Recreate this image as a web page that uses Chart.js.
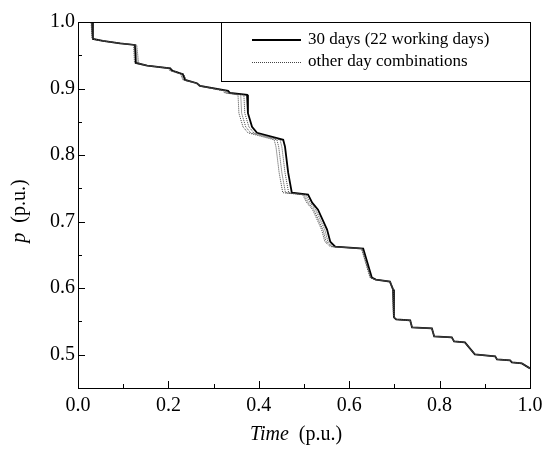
<!DOCTYPE html>
<html>
<head>
<meta charset="utf-8">
<script src="https://cdn.jsdelivr.net/npm/chart.js@4.4.1/dist/chart.umd.min.js"></script>
<style>
  html, body { margin: 0; padding: 0; background: #fff; }
  #wrap { width: 544px; height: 451px; }
</style>
</head>
<body>
<div id="wrap"><canvas id="c" width="544" height="451"></canvas></div>
<script>
// values
const pValues = [1.000, 1.000, 0.9745, 0.9715, 0.968, 0.9655, 0.9385, 0.9345, 0.9305, 0.927,
  0.9215, 0.913, 0.908, 0.904, 0.8965, 0.8935, 0.8905, 0.863, 0.8425, 0.8335,
  0.823, 0.8125, 0.7735, 0.7435, 0.7405, 0.7285, 0.718, 0.688, 0.670, 0.6625,
  0.6595, 0.616, 0.613, 0.610, 0.598, 0.556, 0.553, 0.5515, 0.541, 0.5395,
  0.5275, 0.526, 0.520, 0.5185, 0.5005, 0.4975, 0.493, 0.4915, 0.4885, 0.487, 0.4795];

// 30 days (22 working days)
const time30 = [0.000, 0.031, 0.033, 0.055, 0.093, 0.126, 0.128, 0.153, 0.204, 0.208,
  0.232, 0.237, 0.263, 0.270, 0.332, 0.336, 0.374, 0.376, 0.385, 0.396,
  0.454, 0.458, 0.465, 0.473, 0.509, 0.518, 0.531, 0.551, 0.558, 0.569,
  0.631, 0.650, 0.659, 0.690, 0.697, 0.699, 0.704, 0.735, 0.739, 0.783,
  0.788, 0.827, 0.832, 0.856, 0.878, 0.923, 0.927, 0.956, 0.960, 0.982, 1.000];

// other day combinations
const timeOtherA = [0.000, 0.030, 0.032, 0.055, 0.093, 0.128, 0.131, 0.153, 0.206, 0.210,
  0.234, 0.239, 0.263, 0.272, 0.330, 0.331, 0.367, 0.369, 0.378, 0.389,
  0.447, 0.451, 0.458, 0.466, 0.504, 0.513, 0.526, 0.546, 0.553, 0.565,
  0.629, 0.648, 0.658, 0.690, 0.697, 0.699, 0.704, 0.735, 0.739, 0.783,
  0.788, 0.827, 0.832, 0.856, 0.878, 0.923, 0.927, 0.956, 0.960, 0.982, 1.000];
const timeOtherB = [0.000, 0.029, 0.031, 0.055, 0.093, 0.123, 0.125, 0.153, 0.199, 0.203,
  0.227, 0.232, 0.263, 0.267, 0.326, 0.327, 0.360, 0.362, 0.371, 0.382,
  0.440, 0.444, 0.451, 0.459, 0.500, 0.509, 0.522, 0.542, 0.549, 0.562,
  0.628, 0.647, 0.657, 0.689, 0.696, 0.698, 0.704, 0.735, 0.739, 0.783,
  0.788, 0.827, 0.832, 0.856, 0.878, 0.923, 0.927, 0.956, 0.960, 0.982, 1.000];
const timeOtherC = [0.000, 0.032, 0.034, 0.055, 0.093, 0.130, 0.134, 0.153, 0.201, 0.205,
  0.229, 0.234, 0.263, 0.268, 0.322, 0.324, 0.354, 0.356, 0.365, 0.376,
  0.434, 0.438, 0.445, 0.453, 0.497, 0.506, 0.519, 0.539, 0.546, 0.558,
  0.627, 0.646, 0.656, 0.691, 0.698, 0.700, 0.705, 0.735, 0.739, 0.783,
  0.788, 0.827, 0.832, 0.856, 0.878, 0.923, 0.927, 0.956, 0.960, 0.982, 1.000];

const xTicks = [0.0, 0.2, 0.4, 0.6, 0.8, 1.0];
const xMinor = [0.1, 0.3, 0.5, 0.7, 0.9];
const yTicks = [0.5, 0.6, 0.7, 0.8, 0.9, 1.0];
const yMinor = [0.55, 0.65, 0.75, 0.85, 0.95];
const legendLabels = ['30 days (22 working days)', 'other day combinations'];

const FONT = '"Liberation Serif", "Times New Roman", serif';

const toPoints = (ts) => ts.map((t, i) => ({ x: t, y: pValues[i] }));

const dotted = (ts) => ({
  data: toPoints(ts),
  borderColor: '#444',
  borderWidth: 1,
  borderDash: [1, 1],
  pointRadius: 0,
  fill: false
});

// frame, inside ticks, titles and legend
const decor = {
  id: 'decor',
  afterDraw(chart) {
    const ctx = chart.ctx;
    const a = chart.chartArea;
    const xs = chart.scales.x, ys = chart.scales.y;
    ctx.save();
    ctx.strokeStyle = '#000';
    ctx.lineWidth = 1;
    ctx.strokeRect(a.left + 0.5, a.top + 0.5, a.right - a.left, a.bottom - a.top);

    ctx.beginPath();
    xTicks.forEach(v => { const px = Math.round(xs.getPixelForValue(v)) + 0.5; ctx.moveTo(px, a.bottom); ctx.lineTo(px, a.bottom - 7); });
    xMinor.forEach(v => { const px = Math.round(xs.getPixelForValue(v)) + 0.5; ctx.moveTo(px, a.bottom); ctx.lineTo(px, a.bottom - 4); });
    yTicks.forEach(v => { const py = Math.round(ys.getPixelForValue(v)) + 0.5; ctx.moveTo(a.left, py); ctx.lineTo(a.left + 7, py); });
    yMinor.forEach(v => { const py = Math.round(ys.getPixelForValue(v)) + 0.5; ctx.moveTo(a.left, py); ctx.lineTo(a.left + 4, py); });
    ctx.stroke();

    // x title
    ctx.fillStyle = '#000';
    ctx.textBaseline = 'alphabetic';
    ctx.textAlign = 'left';
    ctx.font = 'italic 20px ' + FONT;
    const w1 = ctx.measureText('Time').width;
    ctx.font = '20px ' + FONT;
    const w2 = ctx.measureText('  (p.u.)').width;
    let sx = 296 - (w1 + w2) / 2;
    ctx.font = 'italic 20px ' + FONT;
    ctx.fillText('Time', sx, 440);
    ctx.font = '20px ' + FONT;
    ctx.fillText('  (p.u.)', sx + w1, 440);

    // y title
    ctx.save();
    ctx.translate(25, 211);
    ctx.rotate(-Math.PI / 2);
    ctx.font = 'italic 20px ' + FONT;
    const v1 = ctx.measureText('p').width;
    ctx.font = '20px ' + FONT;
    const v2 = ctx.measureText('  (p.u.)').width;
    sx = -(v1 + v2) / 2;
    ctx.font = 'italic 20px ' + FONT;
    ctx.fillText('p', sx, 0);
    ctx.font = '20px ' + FONT;
    ctx.fillText('  (p.u.)', sx + v1, 0);
    ctx.restore();

    // legend box
    const lx = 221.5, ly = a.top + 0.5, lw = a.right - 221, lh = 59;
    ctx.fillStyle = '#fff';
    ctx.fillRect(lx, ly, lw, lh);
    ctx.strokeRect(lx, ly, lw, lh);
    ctx.lineWidth = 1.8;
    ctx.beginPath(); ctx.moveTo(252, a.top + 18); ctx.lineTo(301, a.top + 18); ctx.stroke();
    ctx.lineWidth = 1;
    ctx.strokeStyle = '#444';
    ctx.setLineDash([1, 1]);
    ctx.beginPath(); ctx.moveTo(252, a.top + 40.5); ctx.lineTo(301, a.top + 40.5); ctx.stroke();
    ctx.setLineDash([]);
    ctx.fillStyle = '#000';
    ctx.font = '17px ' + FONT;
    ctx.textBaseline = 'middle';
    ctx.fillText(legendLabels[0], 308, a.top + 18);
    ctx.fillText(legendLabels[1], 308, a.top + 40);
    ctx.restore();
  }
};

new Chart(document.getElementById('c'), {
  type: 'line',
  data: {
    datasets: [
      dotted(timeOtherA),
      dotted(timeOtherB),
      dotted(timeOtherC),
      {
        data: toPoints(time30),
        borderColor: '#000',
        borderWidth: 1.8,
        pointRadius: 0,
        fill: false
      }
    ]
  },
  options: {
    responsive: false,
    animation: false,
    layout: { padding: { left: 0, right: 14, top: 22, bottom: 0 } },
    plugins: { legend: { display: false }, tooltip: { enabled: false } },
    scales: {
      x: {
        type: 'linear',
        min: 0,
        max: 1,
        afterBuildTicks: s => { s.ticks = xTicks.map(v => ({ value: v })); },
        afterFit: s => { s.height = 63; s.paddingLeft = 0; s.paddingRight = 0; },
        grid: { display: false, drawTicks: false },
        border: { display: false },
        ticks: { color: '#000', padding: 6, maxRotation: 0, font: { family: FONT, size: 20 }, callback: v => v.toFixed(1) }
      },
      y: {
        min: 0.45,
        max: 1.0,
        afterBuildTicks: s => { s.ticks = yTicks.map(v => ({ value: v })); },
        afterFit: s => { s.width = 78; s.paddingTop = 0; s.paddingBottom = 0; },
        grid: { display: false, drawTicks: false },
        border: { display: false },
        ticks: { color: '#000', padding: 3, font: { family: FONT, size: 20 }, callback: v => v.toFixed(1) }
      }
    }
  },
  plugins: [decor]
});
</script>
</body>
</html>
